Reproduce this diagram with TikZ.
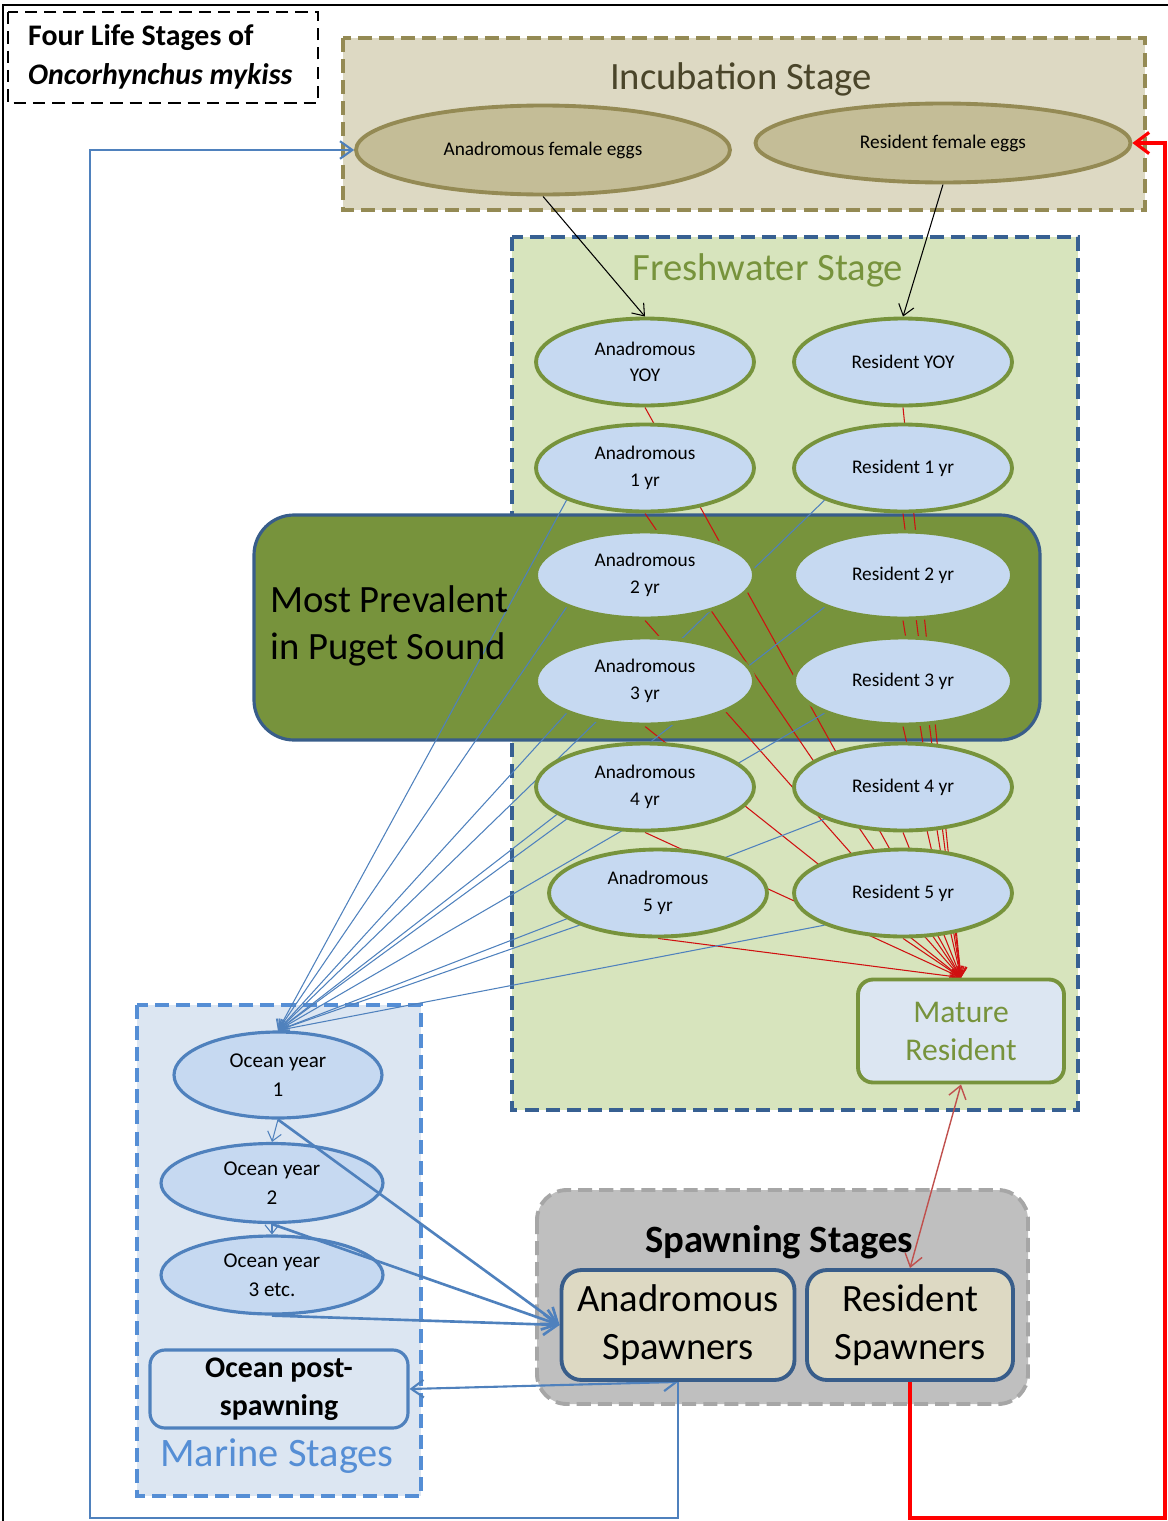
\documentclass[tikz,border=0pt]{standalone}
\usepackage{fontspec}
\setmainfont{Carlito}
\usetikzlibrary{arrows.meta,shapes.geometric,backgrounds}
\definecolor{incfill}{HTML}{DDD9C3}
\definecolor{incdraw}{HTML}{948A54}
\definecolor{inctext}{HTML}{4A452A}
\definecolor{eggfill}{HTML}{C4BD97}
\definecolor{fwfill}{HTML}{D7E4BD}
\definecolor{fwdraw}{HTML}{376092}
\definecolor{leaf}{HTML}{77933C}
\definecolor{ovfill}{HTML}{C6D9F1}
\definecolor{navy}{HTML}{385D8A}
\definecolor{mist}{HTML}{DCE6F2}
\definecolor{sea}{HTML}{558ED5}
\definecolor{ocdraw}{HTML}{4F81BD}
\definecolor{spfill}{HTML}{BFBFBF}
\definecolor{spdraw}{HTML}{A6A6A6}
\definecolor{redln}{HTML}{D01010}
\definecolor{rose}{HTML}{C0504D}
\pgfdeclarelayer{links}
\pgfsetlayers{background,links,main}

\begin{document}
\begin{tikzpicture}[x=0.02cm,y=-0.02cm,
    fw/.style={ellipse,draw=leaf,line width=2.2pt,fill=ovfill,minimum width=4.36cm,
               minimum height=1.74cm,inner sep=0,align=center,font=\fontsize{11}{15}\selectfont},
    egg/.style={ellipse,draw=incdraw,line width=2.2pt,fill=eggfill,inner sep=0,
                font=\fontsize{11}{13}\selectfont},
    oc/.style={ellipse,draw=ocdraw,line width=1.8pt,fill=ovfill,inner sep=0,align=center,
               font=\fontsize{12}{16.5}\selectfont},
    spawn/.style={rectangle,rounded corners=0.4cm,draw=navy,line width=2.2pt,fill=incfill,
                  minimum height=2.2cm,inner sep=2pt,align=center,font=\fontsize{22}{27}\selectfont},
    stage/.style={dash pattern=on 8pt off 4pt,line width=2.2pt},
    heading/.style={font=\fontsize{22}{26}\selectfont},
    tored/.style={redln,line width=0.6pt,-{Straight Barb[length=5pt,width=8pt]}},
    toblue/.style={ocdraw,line width=0.6pt,-{Straight Barb[length=5pt,width=8pt]}}]
  \useasboundingbox (0,0) rectangle (1167,1521);

  % stage boxes
  \begin{scope}[on background layer]
    \draw[line width=1pt] (3,1560) -- (3,5) -- (1200,5);
    \draw[dash pattern=on 7pt off 4pt,line width=1.6pt] (8,12) rectangle (318,103);
    \filldraw[stage,fill=incfill,draw=incdraw] (343,38) rectangle (1145,210);
    \filldraw[stage,fill=fwfill,draw=fwdraw] (512,237) rectangle (1078,1110);
    \filldraw[fill=leaf,draw=navy,line width=1.8pt,rounded corners=0.8cm] (254,515) rectangle (1040,740);
    \filldraw[stage,fill=mist,draw=sea] (137,1005) rectangle (421,1496);
    \filldraw[stage,fill=spfill,draw=spdraw,rounded corners=0.6cm] (537,1190) rectangle (1028,1404);
  \end{scope}

  \node[anchor=west,align=left,font=\fontsize{17}{22}\selectfont\bfseries] (title) at (22,57)
    {Four Life Stages of\\\textit{Oncorhynchus mykiss}};
  \node[heading,text=inctext] (inc) at (741,79) {Incubation Stage};
  \node[heading,text=leaf] (fresh) at (768,270) {Freshwater Stage};
  \node[heading,anchor=west,align=left,font=\fontsize{22}{27}\selectfont] (prev) at (264,626)
    {Most Prevalent\\in Puget Sound};
  \node[heading,text=sea,font=\fontsize{23}{26}\selectfont] (marine) at (277,1456) {Marine Stages};
  \node[heading,font=\fontsize{22}{26}\selectfont\bfseries] (spst) at (779,1242) {Spawning Stages};

  % eggs
  \node[egg,minimum width=7.48cm,minimum height=1.78cm] (ae) at (543,150) {Anadromous female eggs};
  \node[egg,minimum width=7.5cm,minimum height=1.58cm] (re) at (943,143) {Resident female eggs};

  % freshwater years
  \node[fw] (a0) at (645,362) {Anadromous\\YOY};
  \node[fw] (a1) at (645,468) {Anadromous\\1 yr};
  \node[fw] (a2) at (645,575) {Anadromous\\2 yr};
  \node[fw] (a3) at (645,681) {Anadromous\\3 yr};
  \node[fw] (a4) at (645,787) {Anadromous\\4 yr};
  \node[fw] (a5) at (658,893) {Anadromous\\5 yr};
  \node[fw] (r0) at (903,362) {Resident YOY};
  \node[fw] (r1) at (903,468) {Resident 1 yr};
  \node[fw] (r2) at (903,575) {Resident 2 yr};
  \node[fw] (r3) at (903,681) {Resident 3 yr};
  \node[fw] (r4) at (903,787) {Resident 4 yr};
  \node[fw] (r5) at (903,893) {Resident 5 yr};
  \node[rectangle,rounded corners=0.3cm,draw=leaf,line width=2.2pt,fill=mist,text=leaf,
        minimum width=4.12cm,minimum height=2.06cm,align=center,
        font=\fontsize{18}{21.6}\selectfont] (mat) at (961,1031) {Mature\\Resident};

  % marine
  \node[oc,minimum width=4.16cm,minimum height=1.72cm] (o1) at (278,1075) {Ocean year\\1};
  \node[oc,minimum width=4.44cm,minimum height=1.58cm] (o2) at (272,1183) {Ocean year\\2};
  \node[oc,minimum width=4.44cm,minimum height=1.56cm] (o3) at (272,1275) {Ocean year\\3 etc.};
  \node[rectangle,rounded corners=0.3cm,draw=ocdraw,line width=1.8pt,fill=mist,
        minimum width=5.16cm,minimum height=1.56cm,align=center,
        font=\fontsize{17}{21.6}\selectfont\bfseries] (post) at (279,1389) {Ocean post-\\spawning};

  % spawners
  \node[spawn,minimum width=4.66cm] (as) at (678,1325) {Anadromous\\Spawners};
  \node[spawn,minimum width=4.12cm] (rs) at (910,1325) {Resident\\Spawners};

  \coordinate (bl) at (90,1518);
  \coordinate (br) at (1165,1518);

  \begin{pgfonlayer}{links}
    \draw[line width=0.6pt,-{Straight Barb[length=6pt,width=9pt]}] (ae.south) -- (a0.north);
    \draw[line width=0.6pt,-{Straight Barb[length=6pt,width=9pt]}] (re.south) -- (r0.north);
    \foreach \n in {a0,a1,a2,a3,a4,a5,r0,r1,r2,r3,r4,r5}
      \draw[tored] (\n.south) -- (mat.north);
    \foreach \n in {a1,a2,a3,a4,a5,r1,r2,r3,r4,r5}
      \draw[toblue] (\n.south west) -- (o1.north);
    \draw[toblue] (o1.south) -- (o2.north);
    \draw[toblue] (o2.south) -- (o3.north);
    \draw[rose,line width=0.8pt,{Straight Barb[length=7pt,width=10pt]}-{Straight Barb[length=7pt,width=10pt]}]
      (mat.south) -- (rs.north);
    \draw[ocdraw,line width=1.2pt,{Straight Barb[length=7pt,width=10pt]}-{Straight Barb[length=7pt,width=10pt]}]
      (as.south) -- (post.east);
    \draw[ocdraw,line width=1.2pt,-{Straight Barb[length=7pt,width=10pt]}]
      (as.south) |- (bl) |- (ae.west);
    \draw[red,line width=1.8pt,-{Straight Barb[length=8pt,width=12pt]}]
      (rs.south) |- (br) |- (re.east);
  \end{pgfonlayer}
  % ocean years to spawners, over the ovals
  \foreach \n in {o1,o2,o3}
    \draw[ocdraw,line width=1.5pt,-{Straight Barb[length=8pt,width=12pt]}] (\n.south) -- (as.west);
\end{tikzpicture}
\end{document}
